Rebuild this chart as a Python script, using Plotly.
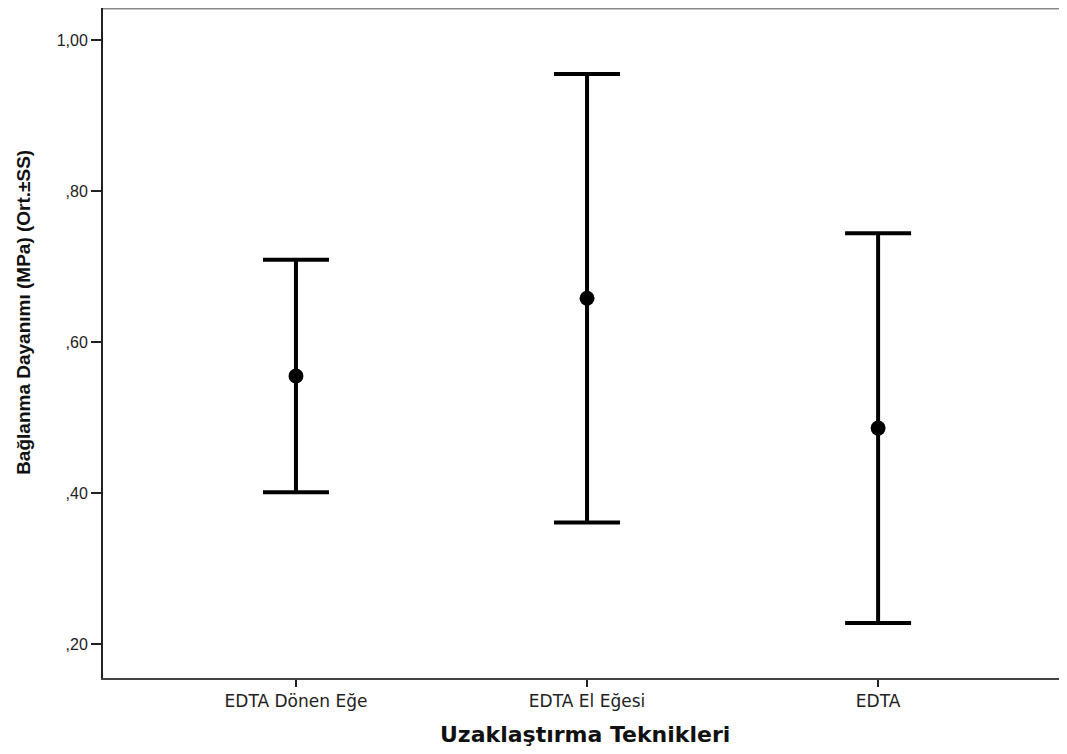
import plotly.graph_objects as go

categories = ["EDTA Dönen Eğe", "EDTA El Eğesi", "EDTA"]
means = [0.555, 0.658, 0.486]
sds = [0.154, 0.297, 0.258]
ytick_vals = [0.20, 0.40, 0.60, 0.80, 1.00]
ytick_text = [",20", ",40", ",60", ",80", "1,00"]

fig = go.Figure()
fig.add_trace(go.Scatter(
    x=[0, 1, 2], y=means, mode="markers",
    marker=dict(color="black", size=15),
    error_y=dict(type="data", array=sds, visible=True, color="black", thickness=4, width=33),
    showlegend=False, hoverinfo="skip",
))

fig.update_layout(
    width=1059, height=738,
    margin=dict(l=95, r=0, t=0, b=68),
    paper_bgcolor="white", plot_bgcolor="white",
    font=dict(family="Liberation Sans, Arial, sans-serif", size=16, color="#222"),
    xaxis=dict(
        range=[-0.663, 2.649], tickvals=[0, 1, 2], ticktext=categories,
        showgrid=False, zeroline=False, showline=True, linecolor="#444", linewidth=2,
        ticks="outside", ticklen=7, tickwidth=1.5, tickcolor="#222",
        tickfont=dict(family="DejaVu Sans, Verdana, sans-serif", size=17, color="#222"),
    ),
    yaxis=dict(
        range=[0.155, 1.0424], tickvals=ytick_vals, ticktext=ytick_text,
        showgrid=False, zeroline=False, showline=True, linecolor="#222", linewidth=2,
        ticks="outside", ticklen=10, tickwidth=2, tickcolor="#222",
        tickfont=dict(size=16, color="#222"),
    ),
    shapes=[dict(type="line", xref="paper", yref="paper", x0=0, x1=1, y0=1, y1=1,
                 line=dict(color="#888", width=3))],
    annotations=[
        dict(text="<b>Uzaklaştırma Teknikleri</b>", xref="paper", yref="paper",
             x=0.5, y=0, yshift=-56, xanchor="center", yanchor="middle", showarrow=False,
             font=dict(family="DejaVu Sans, Verdana, sans-serif", size=22, color="#111")),
        dict(text="<b>Bağlanma Dayanımı (MPa) (Ort.±SS)</b>", xref="paper", yref="paper",
             x=0, xshift=-79, y=0.545, xanchor="center", yanchor="middle", showarrow=False,
             textangle=-90, font=dict(size=19, color="#111")),
    ],
)

fig.write_html("out.html")
